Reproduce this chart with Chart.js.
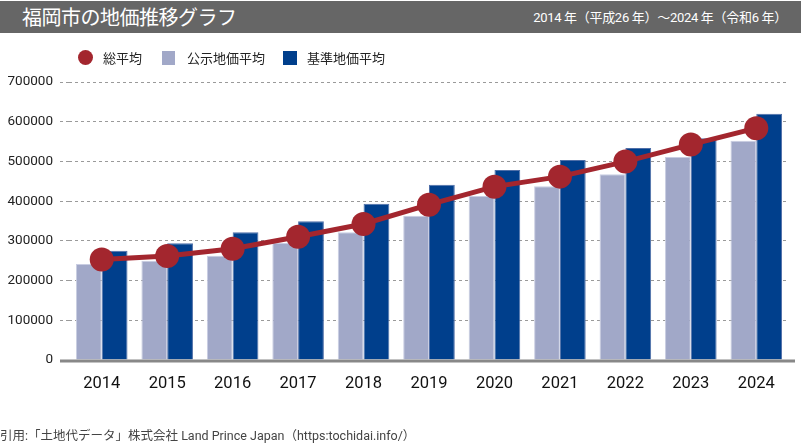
<!DOCTYPE html>
<html><head><meta charset="utf-8">
<script src="https://cdn.jsdelivr.net/npm/chart.js@4/dist/chart.umd.min.js"></script>
<style>
html,body{margin:0;padding:0;background:#fff;}
#wrap{position:relative;width:801px;height:444px;overflow:hidden;font-family:"Noto Sans CJK JP",sans-serif;}
#hdr{position:absolute;left:0;top:1px;width:801px;height:32px;background:#666;}
#title{position:absolute;left:22px;top:3px;color:#fff;font-size:20px;line-height:26px;font-family:"Noto Sans CJK JP",sans-serif;letter-spacing:-0.5px;}
#period{position:absolute;right:14px;top:8px;color:#fff;font-size:13px;line-height:18px;font-family:Roboto,"Noto Sans CJK JP",sans-serif;letter-spacing:-0.3px;}
.lg{position:absolute;top:49px;font-size:13px;line-height:17px;color:#222;font-family:"Noto Sans CJK JP",sans-serif;}
.sw{position:absolute;}
#foot{position:absolute;left:0;top:428px;font-size:12.5px;line-height:16px;color:#444;font-family:Roboto,"Noto Sans CJK JP",sans-serif;}
canvas{position:absolute;left:0;top:0;}
</style></head>
<body><div id="wrap">
<canvas id="c" width="801" height="444"></canvas>
<div id="hdr"><div id="title">福岡市の地価推移グラフ</div><div id="period">2014 年（平成26 年）～2024 年（令和6 年）</div></div>
<div class="sw" style="left:78px;top:50px;width:15px;height:15px;border-radius:50%;background:#a3262e;"></div>
<div class="lg" style="left:103px;">総平均</div>
<div class="sw" style="left:162px;top:51px;width:13px;height:14px;background:#a1a8c8;"></div>
<div class="lg" style="left:187px;">公示地価平均</div>
<div class="sw" style="left:283px;top:51px;width:14px;height:14px;background:#003f8c;"></div>
<div class="lg" style="left:307px;">基準地価平均</div>
<div id="foot">引用:「土地代データ」株式会社 Land Prince Japan（https:tochidai.info/）</div>
</div>
<script>
const years = ['2014','2015','2016','2017','2018','2019','2020','2021','2022','2023','2024'];
const kojiAvg = [241500, 249800, 262400, 294400, 321400, 363300, 413000, 437500, 467700, 511400, 551800];
const kijunAvg = [275000, 293700, 321400, 349200, 393600, 441500, 478600, 503800, 534100, 558500, 619900];
const totalAvg = [253300, 261600, 280000, 310300, 342400, 391000, 436500, 461700, 499600, 542400, 583800];
const yTicks = [0, 100000, 200000, 300000, 400000, 500000, 600000, 700000];

const baseline = {
  id:'baseline',
  afterDatasetsDraw(chart){
    const {ctx, scales:{x,y}} = chart;
    const yy = y.getPixelForValue(0);
    ctx.save();
    ctx.strokeStyle = '#888';
    ctx.lineWidth = 3;
    ctx.beginPath();
    ctx.moveTo(x.left - 9, yy + 1);
    ctx.lineTo(x.right + 6, yy + 1);
    ctx.stroke();
    ctx.restore();
  }
};

new Chart(document.getElementById('c'), {
  data:{
    labels: years,
    datasets:[
      {type:'line', label:'総平均', data: totalAvg, borderColor:'#a3262e', backgroundColor:'#a3262e',
       borderWidth:5, pointRadius:12, pointHoverRadius:12, pointBorderWidth:0, order:0},
      {type:'bar', label:'公示地価平均', data: kojiAvg, backgroundColor:'#a1a8c8', borderColor:'#c9cde2', borderWidth:1,
       categoryPercentage:0.788, barPercentage:1.0, order:1},
      {type:'bar', label:'基準地価平均', data: kijunAvg, backgroundColor:'#003f8c', borderColor:'#4f6fa8', borderWidth:1,
       categoryPercentage:0.788, barPercentage:1.0, order:1}
    ]
  },
  options:{
    responsive:false, animation:false, devicePixelRatio:1,
    layout:{padding:{left:0, right:6, top:82, bottom:0}},
    plugins:{legend:{display:false}, tooltip:{enabled:false}},
    scales:{
      x:{
        grid:{display:false},
        border:{display:false},
        ticks:{color:'#111', font:{family:'Roboto, sans-serif', size:16.5}, padding:6},
        afterFit(s){ s.height = 84; }
      },
      y:{
        min:0, max:700000,
        afterBuildTicks(s){ s.ticks = yTicks.map(v=>({value:v})); },
        grid:{color:'#9a9a9a', lineWidth:1, tickLength:9, tickColor:'#9a9a9a', tickBorderDash:[3,3], drawOnChartArea:true},
        border:{display:false, dash:[3,3]},
        ticks:{color:'#222', font:{family:'Roboto, sans-serif', size:13.5}, padding:7, callback:(v)=>String(v)},
        afterFit(s){ s.width = 69; }
      }
    }
  },
  plugins:[baseline]
});
</script>
</body></html>
